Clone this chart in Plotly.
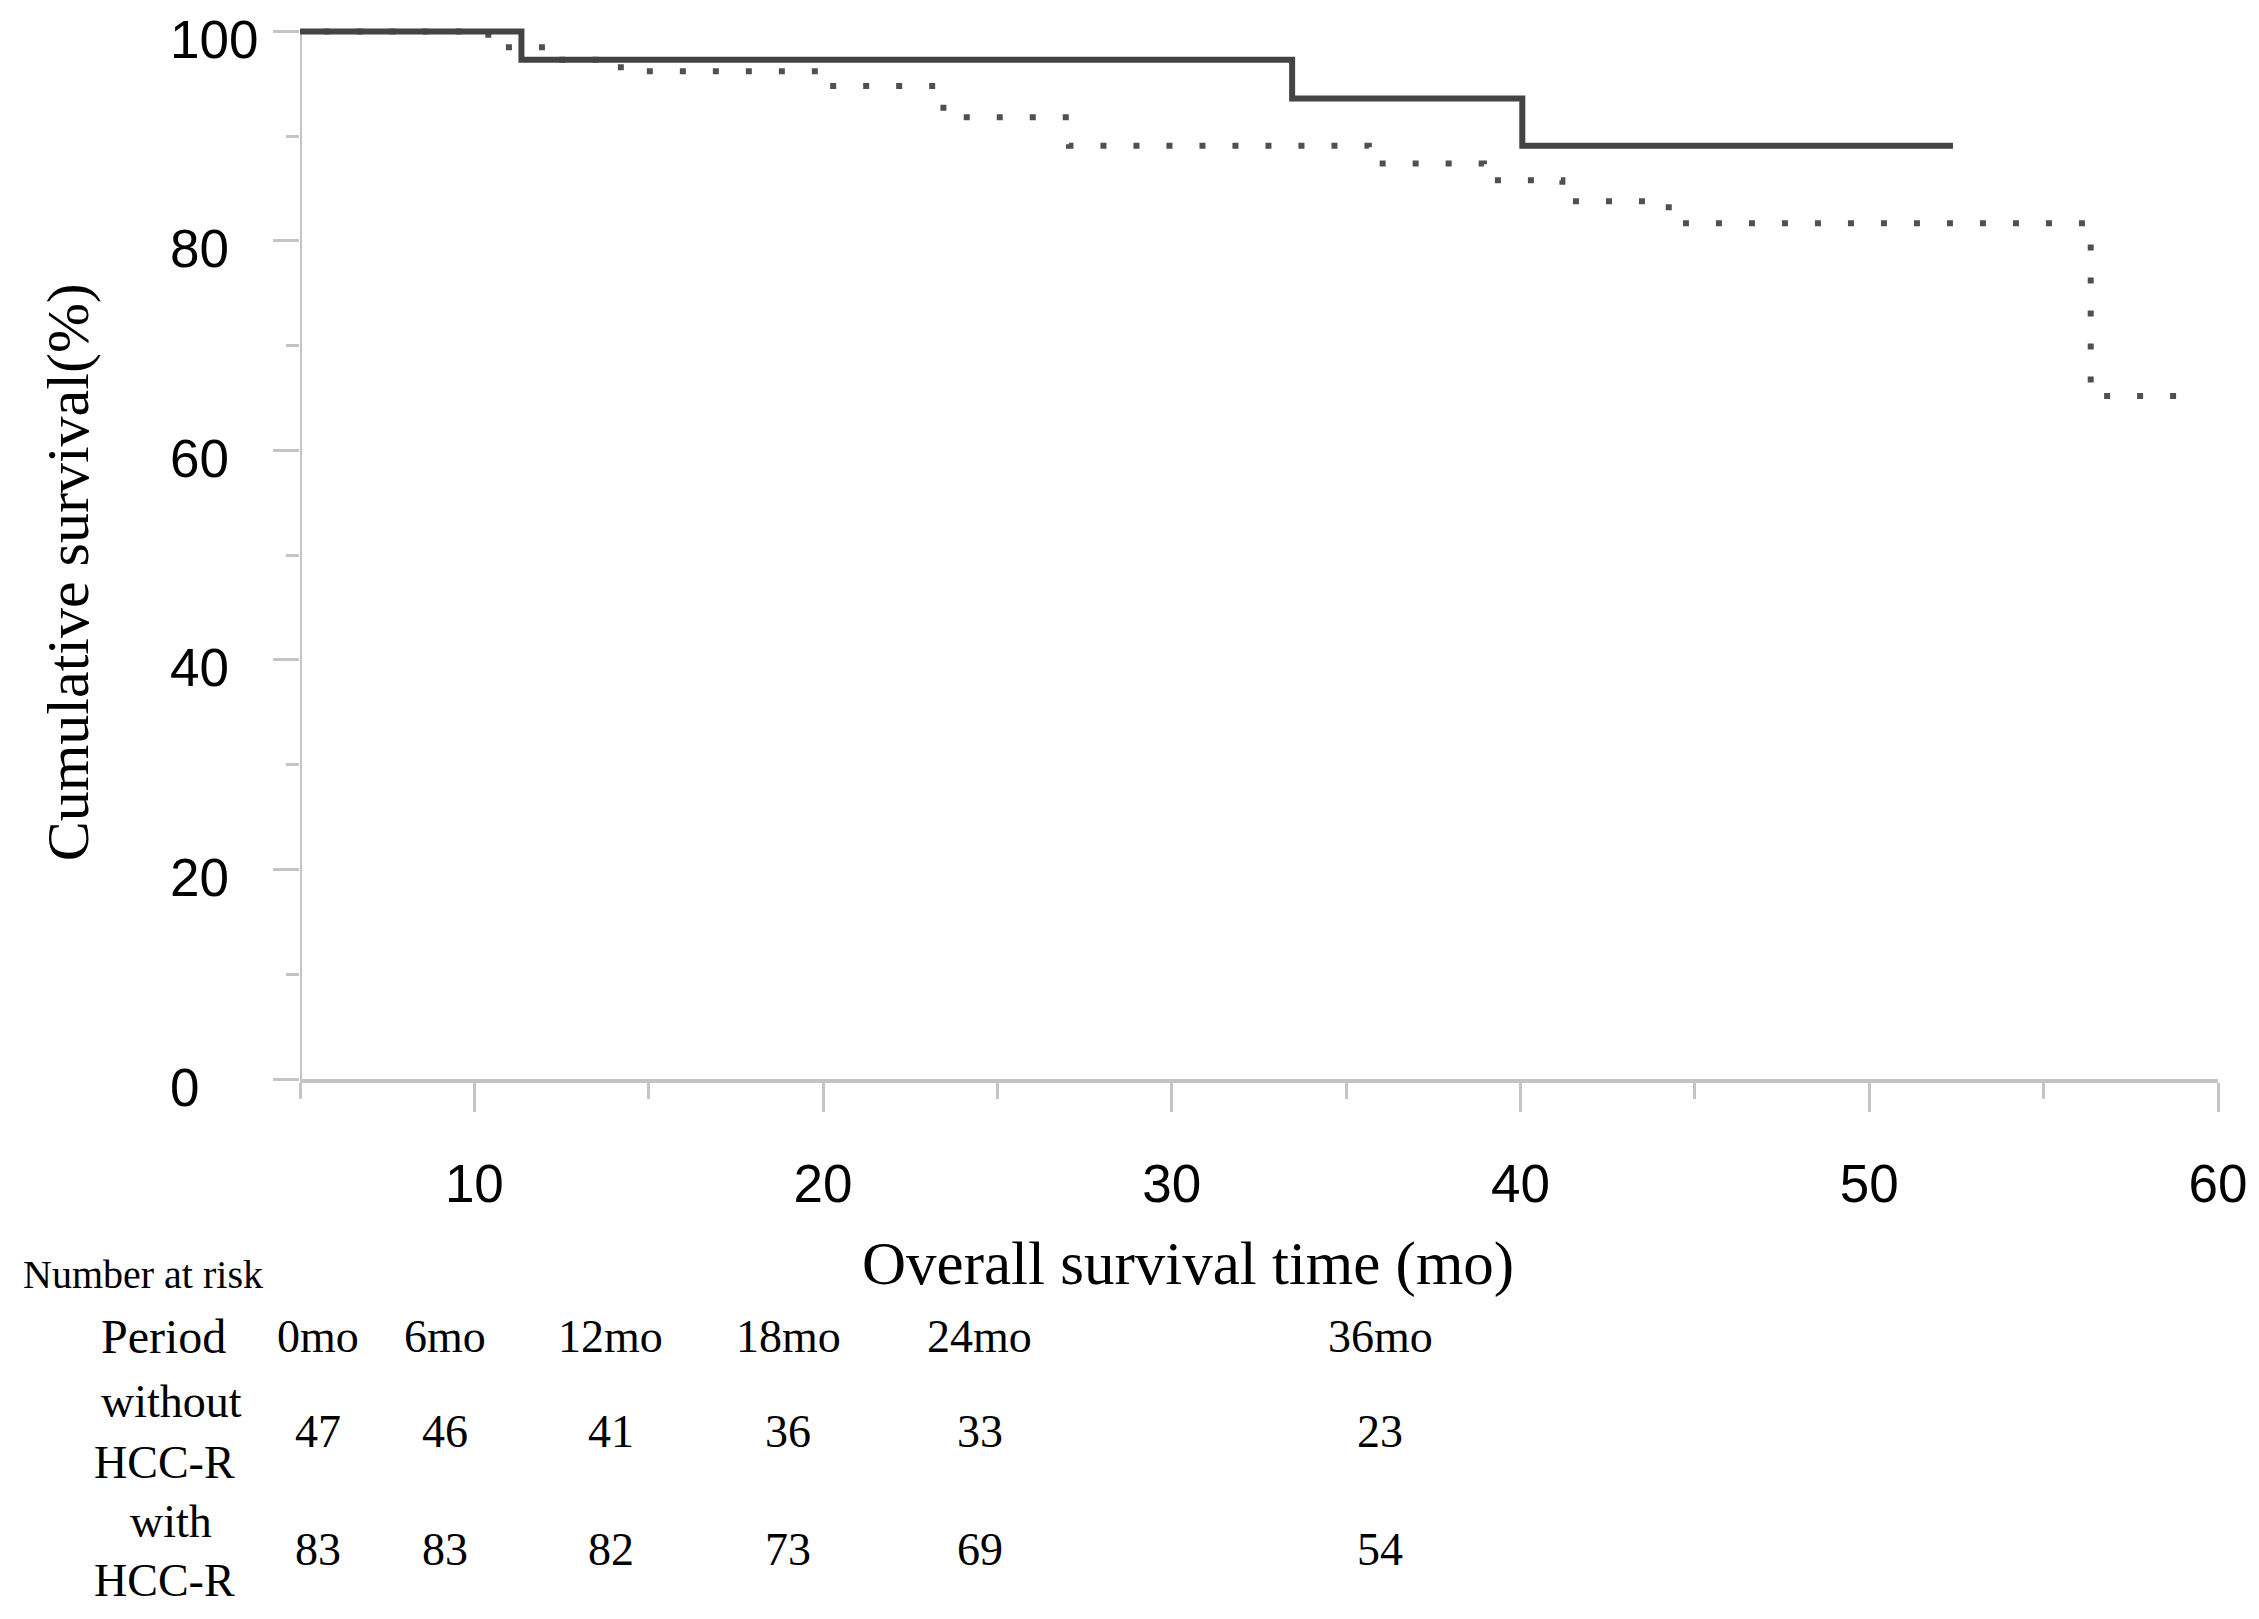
import plotly.graph_objects as go

# ---------------- data ----------------
solid_time = [0, 11.35, 33.45, 40.05, 52.4]
solid_surv = [100, 97.3, 93.6, 89.1, 89.1]

dotted_time = [0, 10.4, 12.2, 14.2, 20.0, 23.45, 27.05, 35.65, 38.95, 41.2, 44.25, 56.35, 59.4]
dotted_surv = [100, 98.5, 97.3, 96.2, 94.8, 91.8, 89.1, 87.4, 85.8, 83.8, 81.7, 65.2, 65.2]

y_ticks = [0, 20, 40, 60, 80, 100]
x_ticks = [10, 20, 30, 40, 50, 60]

risk_periods = ["0mo", "6mo", "12mo", "18mo", "24mo", "36mo"]
risk_without = [47, 46, 41, 36, 33, 23]
risk_with = [83, 83, 82, 73, 69, 54]

# ---------------- layout constants (pixels) ----------------
W, H = 2259, 1619
L, R, T, B = 300, 2221, 21, 1079
AX = "#c4c4c4"
SANS = "Liberation Sans, Arial, sans-serif"
SERIF = "Liberation Serif, Times New Roman, serif"

def px(xp):
    return (xp - L) / (R - L)

def py(yp):
    return (B - yp) / (B - T)

col_px = [318, 445, 611, 789, 981, 1382]

fig = go.Figure()
fig.add_trace(go.Scatter(x=dotted_time, y=dotted_surv, mode="lines", line_shape="hv",
                         line=dict(color="#505050", width=6, dash="6px,27px"),
                         name="with HCC-R", showlegend=False))
fig.add_trace(go.Scatter(x=solid_time, y=solid_surv, mode="lines", line_shape="hv",
                         line=dict(color="#444444", width=6),
                         name="without HCC-R", showlegend=False))

fig.add_shape(type="line", xref="x", yref="y", x0=5, x1=5, y0=0, y1=100,
              line=dict(color=AX, width=4), layer="below")

ann = []
# y tick labels
for v in y_ticks:
    ann.append(dict(x=px(168), xref="paper", y=v, yref="y", text=str(v), showarrow=False,
                    xanchor="left", yanchor="middle", yshift=-8,
                    font=dict(family=SANS, size=53, color="black")))
# axis titles
ann.append(dict(x=px(68), xref="paper", y=py(572), yref="paper", text="Cumulative survival(%)",
                textangle=-90, showarrow=False, xanchor="center", yanchor="middle",
                font=dict(family=SERIF, size=60, color="black")))
ann.append(dict(x=px(1189), xref="paper", y=py(1264), yref="paper", text="Overall survival time (mo)",
                showarrow=False, xanchor="center", yanchor="middle",
                font=dict(family=SERIF, size=61, color="black")))
# number at risk table
def txt(x, y, t, size=46):
    ann.append(dict(x=px(x), xref="paper", y=py(y), yref="paper", text=t, showarrow=False,
                    xanchor="center", yanchor="middle",
                    font=dict(family=SERIF, size=size, color="black")))

txt(143, 1274, "Number at risk", 40)
txt(163, 1336, "Period", 48)
txt(171, 1401, "without")
txt(164, 1462, "HCC-R")
txt(171, 1521, "with")
txt(164, 1580, "HCC-R")
for cx, p, a, b in zip(col_px, risk_periods, risk_without, risk_with):
    txt(cx, 1336, p)
    txt(cx, 1431, str(a))
    txt(cx, 1549, str(b))

fig.update_layout(
    width=W, height=H,
    margin=dict(l=L, r=W - R, t=T, b=H - B, pad=0),
    paper_bgcolor="white", plot_bgcolor="white",
    showlegend=False,
    annotations=ann,
    xaxis=dict(range=[5, 60], tickvals=x_ticks, ticks="outside", ticklen=29, tickwidth=3,
               tickcolor=AX, showline=True, linecolor=AX, linewidth=4, showgrid=False,
               zeroline=False, ticklabelstandoff=26,
               tickfont=dict(family=SANS, size=53, color="black"),
               minor=dict(dtick=5, tick0=0, ticks="outside", ticklen=16, tickwidth=3, tickcolor=AX)),
    yaxis=dict(range=[0, 101], tickvals=y_ticks, ticks="outside", ticklen=26, tickwidth=3,
               tickcolor=AX, showline=False, showgrid=False, zeroline=False,
               showticklabels=False,
               minor=dict(dtick=10, tick0=0, ticks="outside", ticklen=13, tickwidth=3, tickcolor=AX)),
)

fig.write_html("out.html", config={"displayModeBar": False},
               post_script="document.body.style.margin='0';")
